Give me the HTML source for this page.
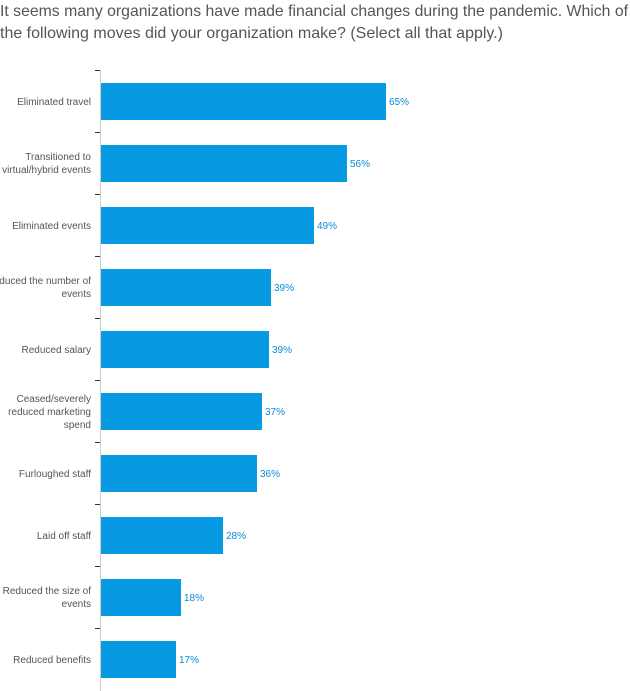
<!DOCTYPE html>
<html><head><style>body{margin:0;background:#fff}svg{display:block}</style></head><body>
<svg width="630" height="691" xmlns="http://www.w3.org/2000/svg" font-family="Liberation Sans, sans-serif">
<text x="0" y="16" font-size="16" fill="#555" textLength="628" lengthAdjust="spacingAndGlyphs">It seems many organizations have made financial changes during the pandemic. Which of</text>
<text x="0" y="38" font-size="16" fill="#555" textLength="503" lengthAdjust="spacingAndGlyphs">the following moves did your organization make? (Select all that apply.)</text>
<line x1="100.5" y1="70" x2="100.5" y2="691" stroke="#ccc" stroke-width="1"/>
<g stroke="#333" stroke-width="1">
<line x1="95" y1="70.5" x2="100" y2="70.5"/><line x1="95" y1="132.5" x2="100" y2="132.5"/><line x1="95" y1="194.5" x2="100" y2="194.5"/><line x1="95" y1="256.5" x2="100" y2="256.5"/><line x1="95" y1="318.5" x2="100" y2="318.5"/><line x1="95" y1="380.5" x2="100" y2="380.5"/><line x1="95" y1="442.5" x2="100" y2="442.5"/><line x1="95" y1="504.5" x2="100" y2="504.5"/><line x1="95" y1="566.5" x2="100" y2="566.5"/><line x1="95" y1="628.5" x2="100" y2="628.5"/>
</g>
<g fill="#0899e3">
<rect x="101" y="83" width="285" height="37"/><rect x="101" y="145" width="246" height="37"/><rect x="101" y="207" width="213" height="37"/><rect x="101" y="269" width="170" height="37"/><rect x="101" y="331" width="168" height="37"/><rect x="101" y="393" width="161" height="37"/><rect x="101" y="455" width="156" height="37"/><rect x="101" y="517" width="122" height="37"/><rect x="101" y="579" width="80" height="37"/><rect x="101" y="641" width="75" height="37"/>
</g>
<g fill="#0a8ad8" font-size="10">
<text x="389" y="105">65%</text><text x="350" y="167">56%</text><text x="317" y="229">49%</text><text x="274" y="291">39%</text><text x="272" y="353">39%</text><text x="265" y="415">37%</text><text x="260" y="477">36%</text><text x="226" y="539">28%</text><text x="184" y="601">18%</text><text x="179" y="663">17%</text>
</g>
<g fill="#555" font-size="10" text-anchor="end">
<text x="91" y="105">Eliminated travel</text>
<text x="91" y="160">Transitioned to</text><text x="91" y="173">virtual/hybrid events</text>
<text x="91" y="229">Eliminated events</text>
<text x="91" y="284">Reduced the number of</text><text x="91" y="297">events</text>
<text x="91" y="353">Reduced salary</text>
<text x="91" y="402">Ceased/severely</text><text x="91" y="415">reduced marketing</text><text x="91" y="428">spend</text>
<text x="91" y="477">Furloughed staff</text>
<text x="91" y="539">Laid off staff</text>
<text x="91" y="594">Reduced the size of</text><text x="91" y="607">events</text>
<text x="91" y="663">Reduced benefits</text>
</g>
</svg>
</body></html>
